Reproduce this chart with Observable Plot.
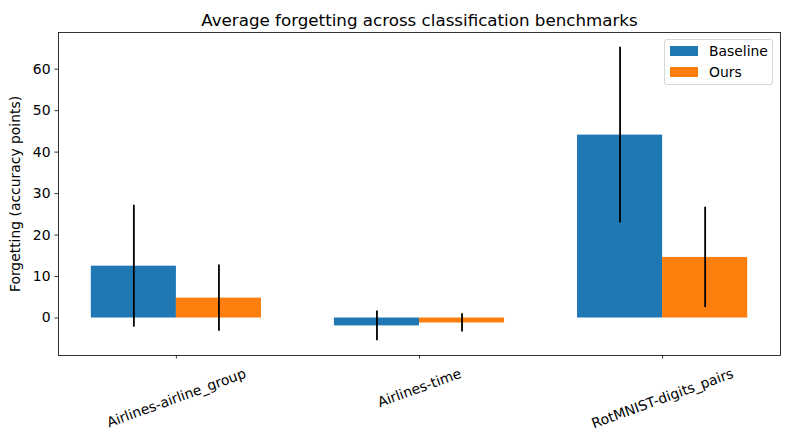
<!DOCTYPE html>
<html><head><meta charset="utf-8">
<script src="https://cdn.jsdelivr.net/npm/d3@7"></script>
<script src="https://cdn.jsdelivr.net/npm/@observablehq/plot@0.6"></script>
<style>
html,body{margin:0;padding:0;background:#fff;}
#wrap{position:relative;width:790px;height:440px;font-family:"DejaVu Sans",sans-serif;}
.legend{position:absolute;left:664px;top:39px;width:109px;height:46px;border:1px solid rgba(204,204,204,0.8);border-radius:3px;background:rgba(255,255,255,0.8);box-sizing:border-box;}
.legend .item{position:absolute;left:5px;height:14px;display:flex;align-items:center;font-size:13.9px;color:#000;white-space:nowrap;}
.legend .sw{width:28px;height:10px;margin-right:11px;flex:none;}
</style></head><body><div id="wrap"></div>
<script>
const categories = ["Airlines-airline_group", "Airlines-time", "RotMNIST-digits_pairs"];
const seriesNames = ["Baseline", "Ours"];
const baselineMean = [12.5, -1.9, 44.1];
const baselineStd = [14.7, 3.6, 21.2];
const oursMean = [4.8, -1.2, 14.6];
const oursStd = [8.0, 2.2, 12.1];
const seriesColors = ["#1f77b4", "#ff7f0e"];
const yTicks = [0, 10, 20, 30, 40, 50, 60];
const title = "Average forgetting across classification benchmarks";
const yLabel = "Forgetting (accuracy points)";

const barWidth = 0.35;
const means = [baselineMean, oursMean];
const stds = [baselineStd, oursStd];
const rows = [];
categories.forEach((c, i) => {
  seriesNames.forEach((s, k) => {
    const x1 = i + (k === 0 ? -barWidth : 0);
    rows.push({cat: c, i, series: s, k, mean: means[k][i], std: stds[k][i], x1, x2: x1 + barWidth, xc: x1 + barWidth / 2});
  });
});

// matplotlib-like 5% auto margins
const xMin = -barWidth, xMax = categories.length - 1 + barWidth;
const xm = (xMax - xMin) * 0.05;
const yLo = Math.min(0, d3.min(rows, d => d.mean - d.std));
const yHi = Math.max(0, d3.max(rows, d => d.mean + d.std));
const ym = (yHi - yLo) * 0.05;

const W = 790, H = 440;
const mL = 58, mR = 10, mT = 32, mB = 85;

const chart = Plot.plot({
  width: W, height: H,
  marginLeft: mL, marginRight: mR, marginTop: mT, marginBottom: mB,
  style: {fontFamily: "DejaVu Sans, sans-serif", fontSize: "13.9px", background: "white", color: "black"},
  x: {type: "linear", domain: [xMin - xm, xMax + xm]},
  y: {domain: [yLo - ym, yHi + ym]},
  marks: [
    Plot.rect(rows, {x1: "x1", x2: "x2", y1: 0, y2: "mean", fill: d => seriesColors[d.k]}),
    Plot.ruleX(rows, {x: "xc", y1: d => d.mean - d.std, y2: d => d.mean + d.std, stroke: "black", strokeWidth: 1.8}),
    Plot.frame({stroke: "black", strokeWidth: 0.8}),
    Plot.axisY({ticks: yTicks, tickSize: 3.5, tickPadding: 4.5, strokeWidth: 0.8, label: null, fontSize: 13.9}),
    Plot.axisX({ticks: categories.map((c, i) => i), tickSize: 3.5, tickFormat: () => "", strokeWidth: 0.8, label: null}),
    Plot.text(categories, {x: (d, i) => i, frameAnchor: "bottom", text: d => d, rotate: -20, textAnchor: "middle", lineAnchor: "middle", fontSize: 13.9}),
    Plot.text([yLabel], {frameAnchor: "left", dx: -43, rotate: -90, text: d => d, textAnchor: "middle", lineAnchor: "middle", fontSize: 13.9}),
    Plot.text([title], {frameAnchor: "top", dy: -7, text: d => d, textAnchor: "middle", lineAnchor: "bottom", fontSize: 16.7})
  ]
});

const wrap = document.getElementById("wrap");
wrap.append(chart);

// matplotlib-style placement of rotated tick labels: rotated bbox top just below the ticks
const svgRect = chart.getBoundingClientRect();
const targetTop = H - mB + 10;
const svgNS = "http://www.w3.org/2000/svg";
Array.from(chart.querySelectorAll("text"))
  .filter(t => categories.includes(t.textContent.trim()))
  .forEach(t => {
    const r = t.getBoundingClientRect();
    const delta = targetTop - (r.top - svgRect.top);
    const g = document.createElementNS(svgNS, "g");
    g.setAttribute("transform", `translate(0,${delta.toFixed(2)})`);
    t.parentNode.insertBefore(g, t);
    g.appendChild(t);
  });

// legend
const legend = document.createElement("div");
legend.className = "legend";
seriesNames.forEach((s, k) => {
  const item = document.createElement("div");
  item.className = "item";
  item.style.top = (4.3 + k * 20.4) + "px";
  const sw = document.createElement("span");
  sw.className = "sw";
  sw.style.background = seriesColors[k];
  const lab = document.createElement("span");
  lab.textContent = s;
  item.append(sw, lab);
  legend.append(item);
});
wrap.append(legend);
</script>
</body></html>
